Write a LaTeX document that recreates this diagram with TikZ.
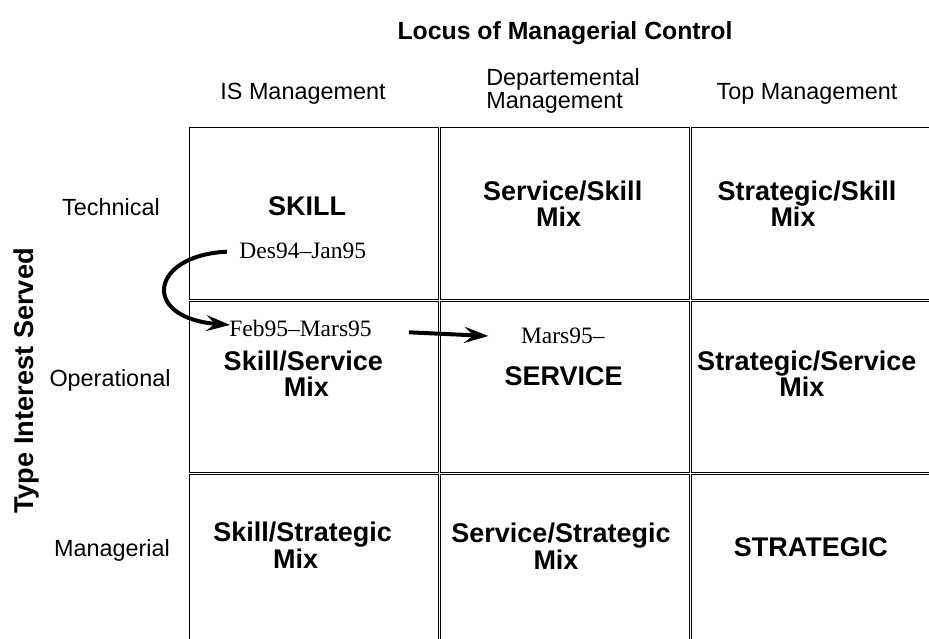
\documentclass[tikz,border=0pt]{standalone}
\usepackage{fontspec}
\setmainfont{Liberation Sans}
\newfontfamily\tms{Liberation Serif}
\usetikzlibrary{arrows.meta}
\begin{document}
\begin{tikzpicture}[x=1pt,y=-1pt,
  cell/.style={draw, line width=1pt, minimum width=249.25pt, minimum height=171.25pt, inner sep=0pt},
  lab/.style={font=\bfseries\fontsize{27}{26.5}\selectfont, align=center, inner sep=0pt, anchor=base},
  hdr/.style={font=\fontsize{23.4}{23}\selectfont, inner sep=0pt, anchor=base},
  datelab/.style={font=\tms\fontsize{23.5}{24}\selectfont, inner sep=0pt, anchor=base},
  arr/.style={line width=4pt, -{Stealth[length=24pt,width=16pt,inset=9pt]}}]
\useasboundingbox (0,0) rectangle (929,639);
\clip (0,0) rectangle (929,639);
% grid cells
\node[cell] (c11) at (313.75,213.5) {};
\node[cell] (c12) at (565,213.5) {};
\node[cell] (c13) at (816.1,213.5) {};
\node[cell] (c21) at (313.75,386.75) {};
\node[cell] (c22) at (565,386.75) {};
\node[cell] (c23) at (816.1,386.75) {};
\node[cell] (c31) at (313.75,560) {};
\node[cell] (c32) at (565,560) {};
\node[cell] (c33) at (816.1,560) {};
% titles
\node[font=\bfseries\fontsize{24.8}{26}\selectfont, inner sep=0pt, anchor=base] (title) at (565,40) {Locus of Managerial Control};
\node[font=\bfseries\fontsize{27.2}{28}\selectfont, rotate=90, anchor=base, inner sep=0pt] (ylab) at (33,381) {Type Interest Served};
% column headers
\node[hdr] (h1) at (303,100) {IS Management};
\node[hdr, align=left] (h2) at (563,109) {Departemental\\Management};
\node[hdr] (h3) at (807,100) {Top Management};
% row headers
\node[hdr] (r1) at (111,215) {Technical};
\node[hdr] (r2) at (110,386) {Operational};
\node[hdr] (r3) at (112,556) {Managerial};
% cell labels (base = baseline of the last line)
\node[lab] (skill) at (307,215) {SKILL};
\node[lab] (svsk) at (562.7,226.7) {Service/Skill\\Mix\hspace*{8pt}};
\node[lab] (stsk) at (807,227) {Strategic/Skill\\Mix\hspace*{28pt}};
\node[lab] (sksv) at (303.3,396.7) {Skill/Service\\\hspace*{6pt}Mix};
\node[lab] (serv) at (563.7,385) {SERVICE};
\node[lab] (stsv) at (806.8,396.7) {Strategic/Service\\Mix\hspace*{10pt}};
\node[lab] (skst) at (302.7,568.3) {Skill/Strategic\\Mix\hspace*{14pt}};
\node[lab] (svst) at (561,569.3) {Service/Strategic\\Mix\hspace*{10pt}};
\node[lab] (strat) at (810.8,556) {STRATEGIC};
% dates
\node[datelab] (des) at (302.8,258.3) {Des94–Jan95};
\node[datelab] (feb) at (300.5,336) {Feb95–Mars95};
\node[datelab] (mars) at (562.8,343.3) {Mars95–};
% arrows
\draw[arr] ([shift={(-12.3,-6.6)}]des.base west) .. controls (150,255) and (140,318) .. ([shift={(1,-11)}]feb.base west);
\draw[arr] ([shift={(37,-3.7)}]feb.base east) -- ([shift={(-32.4,-7.3)}]mars.base west);
\end{tikzpicture}
\end{document}
